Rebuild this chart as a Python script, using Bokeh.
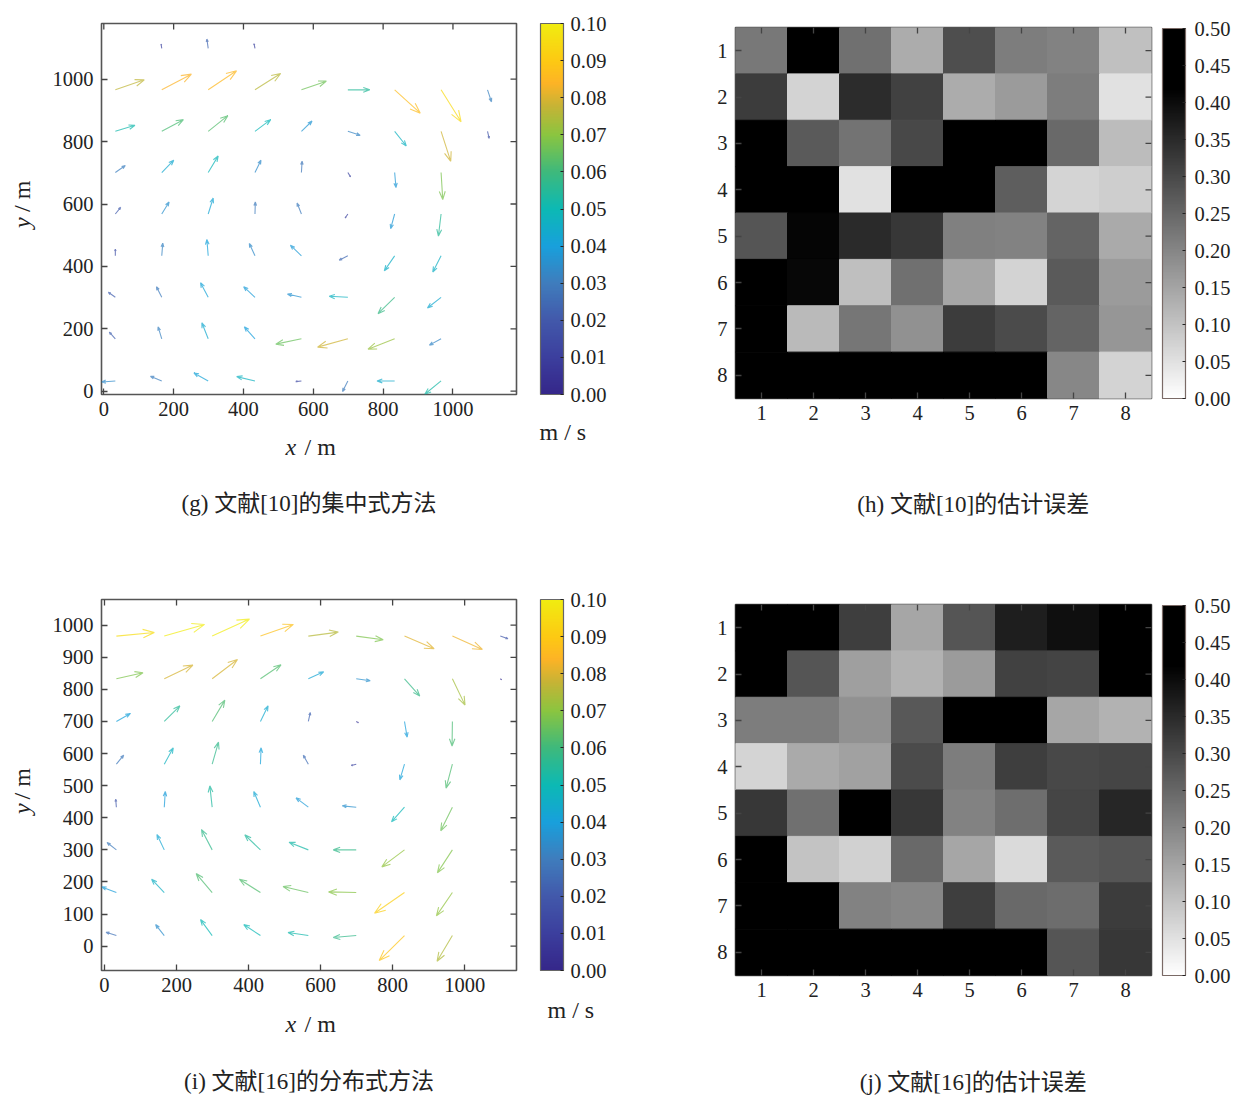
import math
from bokeh.plotting import figure
from bokeh.layouts import column, row
from bokeh.models import (ColumnDataSource, ColorBar, FixedTicker, Label,
                          LinearColorMapper, NumeralTickFormatter, Range1d)
from bokeh.embed import file_html
from bokeh.resources import INLINE

GRID_X = [33, 166, 299, 433, 566, 699, 833, 966, 1099]
ROWS_G = [1099, 966, 833, 701, 568, 434, 301, 168, 33]
ROWS_I = [966, 833, 700, 567, 433, 300, 167, 33]

# velocity components, unit = 1/1200 m/s (reading off the picture); rows top to bottom
U_G = [
    [0, -2, -4, -3, 0, 0, 0, 0, 0],
    [87, 89, 85, 77, 75, 66, 77, 60, 12],
    [59, 65, 59, 47, 32, 37, 35, 29, 5],
    [30, 36, 30, 18, 2, 8, 4, 5, 0],
    [16, 22, 15, 1, -13, -8, -12, -8, 0],
    [0, 3, -4, -17, -33, -26, -31, -25, 0],
    [-21, -16, -23, -34, -42, -56, -50, -41, 0],
    [-18, -11, -19, -32, -77, -91, -80, -35, 0],
    [-41, -34, -43, -55, -17, -16, -53, -49, 0],
]
V_G = [
    [0, 13, 28, 14, 0, 0, 0, 0, 0],
    [30, 47, 57, 49, 26, 0, -70, -96, -36],
    [18, 35, 47, 35, 31, -12, -44, -90, -21],
    [21, 37, 50, 37, 34, -13, -45, -81, 0],
    [20, 36, 48, 36, 33, -12, -44, -66, 0],
    [20, 38, 49, 37, 32, -13, -45, -49, 0],
    [15, 32, 44, 32, 10, 3, -49, -32, 0],
    [20, 36, 48, 36, -16, -25, -31, -19, 0],
    [-3, 14, 24, 13, -2, -32, 0, -40, 0],
]
U_I = [
    [114, 121, 112, 99, 90, 81, 89, 90, 23],
    [80, 86, 76, 62, 46, 42, 46, 38, 4],
    [42, 47, 38, 23, 6, 7, 8, -1, 0],
    [22, 27, 19, 2, -15, -15, -14, -19, 0],
    [-2, 3, -7, -20, -37, -42, -39, -35, 0],
    [-28, -22, -32, -47, -58, -69, -68, -45, 0],
    [-44, -38, -48, -63, -76, -83, -90, -48, 0],
    [-31, -26, -35, -50, -61, -69, -76, -46, 0],
]
V_I = [
    [11, 35, 51, 35, 12, -11, -38, -40, -8],
    [18, 41, 58, 42, 21, -6, -52, -79, -3],
    [24, 47, 64, 47, 27, -4, -47, -74, 0],
    [27, 49, 66, 49, 27, -4, -47, -72, 0],
    [24, 47, 64, 47, 28, 4, -44, -71, 0],
    [22, 46, 61, 45, 23, 0, -51, -69, 0],
    [17, 40, 57, 40, 18, 2, -62, -70, 0],
    [10, 33, 48, 33, 9, -6, -75, -77, 0],
]
READING_UNIT = 1 / 1200

# estimation error per cell; rows top to bottom
ERR_H = [
    [.222, .50, .236, .137, .292, .214, .206, .104],
    [.321, .074, .346, .313, .137, .165, .214, .049],
    [.50, .272, .231, .301, .50, .50, .247, .110],
    [.50, .50, .049, .50, .50, .264, .071, .082],
    [.280, .412, .351, .329, .209, .206, .255, .140],
    [.50, .407, .107, .236, .148, .074, .272, .165],
    [.50, .115, .226, .181, .321, .296, .255, .173],
    [.50, .50, .50, .50, .50, .50, .198, .074],
]
ERR_J = [
    [.50, .50, .318, .148, .280, .371, .395, .50],
    [.50, .280, .160, .127, .165, .313, .308, .50],
    [.214, .214, .181, .275, .50, .50, .148, .127],
    [.071, .140, .156, .296, .214, .318, .301, .305],
    [.329, .236, .50, .329, .206, .239, .305, .357],
    [.50, .099, .077, .247, .148, .061, .272, .280],
    [.50, .50, .206, .198, .318, .247, .242, .321],
    [.50, .50, .50, .50, .50, .50, .280, .329],
]
CELLS = [1, 2, 3, 4, 5, 6, 7, 8]

XTICKS_G = [0, 200, 400, 600, 800, 1000]
YTICKS_G = [0, 200, 400, 600, 800, 1000]
XTICKS_I = [0, 200, 400, 600, 800, 1000]
YTICKS_I = [0, 100, 200, 300, 400, 500, 600, 700, 800, 900, 1000]
SPEED_TICKS = [0, .01, .02, .03, .04, .05, .06, .07, .08, .09, .10]
ERROR_TICKS = [0, .05, .10, .15, .20, .25, .30, .35, .40, .45, .50]

CAPTIONS = ["(g) 文献[10]的集中式方法", "(h) 文献[10]的估计误差",
            "(i) 文献[16]的分布式方法", "(j) 文献[16]的估计误差"]

PARULA = [(0.0, "#35278a"), (0.1, "#3c3f9e"), (0.2, "#4259ab"), (0.3, "#3f7dbd"),
          (0.4, "#18a0dc"), (0.5, "#0cb9b4"), (0.6, "#3eb97c"), (0.7, "#8bc540"),
          (0.78, "#c8b335"), (0.84, "#fdb326"), (0.9, "#fdc913"), (1.0, "#f1ec10")]


def hex_rgb(h):
    return tuple(int(h[i:i + 2], 16) for i in (1, 3, 5))


def make_palette(anchors, n=256):
    out = []
    for k in range(n):
        t = k / (n - 1)
        for (a, ca), (b, cb) in zip(anchors, anchors[1:]):
            if a <= t <= b:
                f = (t - a) / (b - a)
                c = [round(p + (q - p) * f) for p, q in zip(hex_rgb(ca), hex_rgb(cb))]
                out.append("#%02x%02x%02x" % tuple(c))
                break
    return out


SPEED_PALETTE = make_palette(PARULA)
# white at 0, black from 0.42 upward, as in the bars
ERROR_PALETTE = ["#%02x%02x%02x" % ((max(0, round(255 * (1 - (k / 255 * 0.5) / 0.42))),) * 3)
                 for k in range(256)]

SERIF = "Liberation Serif"
CJK = "Liberation Serif, Noto Sans CJK SC"
TICK_FONT = "20.5px"
LABEL_FONT = "24px"
CAPTION_FONT = "23px"
EDGE = "#555555"
TICK_LEN = 6
NAN = float("nan")


def base_figure(xr, yr, xt, yt, fw, fh, left, top, right, bottom, xstand, ystand):
    p = figure(output_backend="svg", toolbar_location=None, x_range=Range1d(*xr), y_range=Range1d(*yr),
               frame_width=fw, frame_height=fh, min_border_left=left, min_border_top=top,
               min_border_right=right, min_border_bottom=bottom,
               x_axis_location="below", y_axis_location="left")
    p.grid.visible = False
    p.outline_line_color = EDGE
    p.outline_line_width = 1.6
    p.background_fill_color = "white"
    p.border_fill_color = "white"
    for ax, ticks, stand in ((p.xaxis[0], xt, xstand), (p.yaxis[0], yt, ystand)):
        ax.ticker = FixedTicker(ticks=ticks)
        ax.major_tick_in = TICK_LEN
        ax.major_tick_out = 0
        ax.minor_tick_line_color = None
        ax.axis_line_color = None
        ax.major_tick_line_color = "#444444"
        ax.major_tick_line_width = 1.3
        ax.major_label_text_font = SERIF
        ax.major_label_text_font_size = TICK_FONT
        ax.major_label_text_color = "#222222"
        ax.major_label_standoff = stand
    # ticks on the top and right edges of the box
    kx = fw / (xr[1] - xr[0])
    ky = fh / (yr[1] - yr[0])
    p.segment(xt, [yr[1]] * len(xt), xt, [yr[1] - TICK_LEN / ky] * len(xt), line_color="#444444", line_width=1.3)
    p.segment([xr[1]] * len(yt), yt, [xr[1] - TICK_LEN / kx] * len(yt), yt, line_color="#444444", line_width=1.3)
    return p


def strip(w, h, texts):
    """Blank area in page-like pixel coordinates that only carries texts."""
    s = figure(output_backend="svg", toolbar_location=None, width=w, height=h,
               x_range=Range1d(0, w), y_range=Range1d(h, 0), x_axis_location=None,
               y_axis_location=None, min_border=0)
    s.grid.visible = False
    s.outline_line_color = None
    s.border_fill_color = "white"
    s.background_fill_color = "white"
    for t in texts:
        s.add_layout(Label(x=t["x"], y=t["y"], text=t["text"], text_font=t.get("font", SERIF),
                           text_font_size=t.get("size", LABEL_FONT),
                           text_font_style=t.get("style", "normal"), angle=t.get("angle", 0),
                           text_align=t.get("align", "left"), text_baseline="middle",
                           text_color="#222222"))
    return s


def add_colorbar(p, low, high, palette, ticks, location, height, outline, standoff):
    mapper = LinearColorMapper(palette=palette, low=low, high=high)
    cb = ColorBar(color_mapper=mapper, ticker=FixedTicker(ticks=ticks),
                  formatter=NumeralTickFormatter(format="0.00"),
                  location=location, width=23, height=height, padding=0, margin=0,
                  major_label_text_font=SERIF, major_label_text_font_size=TICK_FONT,
                  major_label_text_color="#222222", label_standoff=standoff,
                  major_tick_in=3, major_tick_line_color="#222222", minor_tick_line_color=None,
                  bar_line_color=outline, bar_line_width=1.2, border_line_color=None,
                  background_fill_color=None)
    p.add_layout(cb)


def quiver(xr, yr, xt, yt, rows, U, V, top, bottom, caption, mlabel_x, mlabel_y,
           ylabel_y, strip_h, cap_y, xstand):
    fw, fh = 415, 371
    p = base_figure(xr, yr, xt, yt, fw, fh, 61, top, 4, bottom, xstand, 8)
    kx = fw / (xr[1] - xr[0])
    ky = fh / (yr[1] - yr[0])
    PX_PER_SPEED = 400
    xs, ys, speeds = [], [], []
    for yy, ur, vr in zip(rows, U, V):
        for xx, u, v in zip(GRID_X, ur, vr):
            if u == 0 and v == 0:
                continue
            su, sv = u * READING_UNIT, v * READING_UNIT
            dx, dy = su * PX_PER_SPEED, sv * PX_PER_SPEED
            bx, by = 0.30 * dx, 0.30 * dy
            wx, wy = -0.11 * dy, 0.11 * dx
            tipx, tipy = xx + dx / kx, yy + dy / ky
            xs.append([xx, tipx, tipx - (bx - wx) / kx, NAN, tipx, tipx - (bx + wx) / kx])
            ys.append([yy, tipy, tipy - (by - wy) / ky, NAN, tipy, tipy - (by + wy) / ky])
            speeds.append(math.hypot(su, sv))
    src = ColumnDataSource(dict(xs=xs, ys=ys, speed=speeds))
    mapper = LinearColorMapper(palette=SPEED_PALETTE, low=0, high=0.1)
    p.multi_line("xs", "ys", source=src, line_width=1.1, line_alpha=0.72,
                 line_color={"field": "speed", "transform": mapper})
    left = strip(40, top + fh + bottom, [
        dict(text="y", x=21, y=ylabel_y[0], style="italic", angle=math.pi / 2, align="center"),
        dict(text="/ m", x=21, y=ylabel_y[1], angle=math.pi / 2, align="center"),
    ])
    under = strip(520, strip_h, [
        dict(text="x", x=285, y=25, style="italic"),
        dict(text="/ m", x=304, y=25),
        dict(text=caption, x=308.5, y=cap_y, font=CJK, size=CAPTION_FONT, align="center"),
    ])
    total = top + fh + bottom + strip_h
    side = strip(100, total, [dict(text="m / s", x=mlabel_x - 520, y=mlabel_y)])
    add_colorbar(side, 0, 0.1, SPEED_PALETTE, SPEED_TICKS, (20, strip_h + bottom), fh, "#666666", 7)
    return row(column(row(left, p, spacing=0), under, spacing=0), side, spacing=0)


def heat(err, top, bottom, caption, strip_h, cap_y):
    fw, fh = 416, 371
    p = base_figure((.5, 8.5), (8.5, .5), CELLS, CELLS, fw, fh, 115, top, 91, bottom, 7, 8)
    xs, ys, vals = [], [], []
    for j, r in zip(CELLS, err):
        for i, v in zip(CELLS, r):
            xs.append(i)
            ys.append(j)
            vals.append(v)
    mapper = LinearColorMapper(palette=ERROR_PALETTE, low=0, high=0.5)
    p.rect("x", "y", width=1, height=1, source=ColumnDataSource(dict(x=xs, y=ys, v=vals)),
           fill_color={"field": "v", "transform": mapper},
           line_color={"field": "v", "transform": mapper}, line_width=1, level="underlay")
    add_colorbar(p, 0, 0.5, ERROR_PALETTE, ERROR_TICKS, (427, 0), fh - 1, "#7a6a66", 9)
    under = strip(622, strip_h, [
        dict(text=caption, x=355.5, y=cap_y, font=CJK, size=CAPTION_FONT, align="center"),
    ])
    return column(p, under, spacing=0)


panel_g = quiver((-6.6, 1182), (-10.5, 1178.6), XTICKS_G, YTICKS_G, ROWS_G, U_G, V_G, 23, 27,
                 CAPTIONS[0], 539, 431, (226, 196), 129, 82, 7)
panel_h = heat(ERR_H, 27, 23, CAPTIONS[1], 129, 82)
panel_i = quiver((-8.3, 1144), (-75.8, 1080), XTICKS_I, YTICKS_I, ROWS_I, U_I, V_I, 48, 28,
                 CAPTIONS[2], 547, 458, (252, 222), 97, 83, 7)
panel_j = heat(ERR_J, 53, 23, CAPTIONS[3], 97, 83)

page = column(row(panel_g, panel_h, spacing=0), row(panel_i, panel_j, spacing=0), spacing=0)
open("out.html", "w").write(file_html(page, INLINE))
